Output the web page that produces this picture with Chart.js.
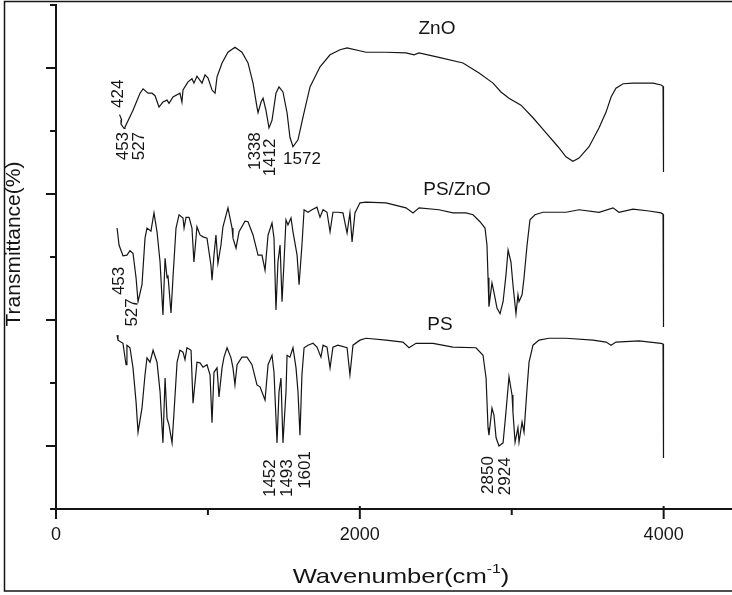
<!DOCTYPE html>
<html>
<head>
<meta charset="utf-8">
<style>
  html, body { margin: 0; padding: 0; background: #fff; }
  canvas { display: block; }
</style>
</head>
<body>
<canvas id="ftir" width="732" height="595"></canvas>
<script src="https://cdn.jsdelivr.net/npm/chart.js@4.4.1/dist/chart.umd.min.js"></script>
<script>
// FTIR spectra (wavenumber in cm-1, transmittance in arbitrary offset units)
const znoWn = [418, 432, 428, 448, 454, 507, 553, 573, 606, 632, 652, 678, 704, 731, 744, 770, 816, 829, 836, 869,
  895, 908, 928, 961, 981, 1001, 1027, 1047, 1060, 1093, 1132, 1178, 1224, 1264, 1297, 1323, 1330, 1350, 1363, 1382,
  1402, 1422, 1448, 1468, 1494, 1521, 1540, 1560, 1593, 1626, 1672, 1738, 1804, 1870, 1916, 2041, 2172, 2304, 2357, 2390,
  2521, 2679, 2785, 2877, 2929, 2982, 3061, 3140, 3226, 3305, 3357, 3403, 3443, 3509, 3575, 3621, 3654, 3686, 3733, 3798,
  3930, 3983, 3996, 3999];
const znoT = [6.26, 6.18, 6.11, 6.04, 6.06, 6.33, 6.60, 6.67, 6.60, 6.60, 6.56, 6.38, 6.46, 6.49, 6.44, 6.54, 6.60, 6.46, 6.65, 6.78,
  6.83, 6.76, 6.87, 6.76, 6.89, 6.84, 6.65, 6.60, 6.86, 7.08, 7.25, 7.33, 7.25, 7.08, 6.76, 6.38, 6.29, 6.46, 6.52, 6.33,
  6.05, 6.17, 6.60, 6.70, 6.62, 6.29, 5.90, 5.75, 5.86, 6.22, 6.70, 7.02, 7.21, 7.29, 7.32, 7.25, 7.25, 7.24, 7.21, 7.24,
  7.17, 7.08, 6.92, 6.76, 6.62, 6.52, 6.41, 6.21, 5.97, 5.75, 5.59, 5.52, 5.57, 5.75, 6.05, 6.30, 6.54, 6.68, 6.75, 6.76,
  6.76, 6.73, 6.71, 5.35];

const pszWn = [402, 415, 441, 467, 487, 507, 527, 540, 566, 586, 599, 625, 645, 665, 685, 704, 718, 731, 737, 757,
  770, 790, 810, 836, 843, 856, 876, 895, 908, 928, 948, 968, 994, 1020, 1027, 1040, 1053, 1066, 1086, 1099,
  1132, 1159, 1165, 1185, 1205, 1244, 1264, 1297, 1330, 1356, 1376, 1396, 1422, 1435, 1448, 1461, 1475, 1488, 1501, 1514,
  1527, 1547, 1560, 1587, 1600, 1619, 1633, 1659, 1685, 1718, 1738, 1758, 1784, 1804, 1823, 1856, 1889, 1916, 1935, 1949,
  1968, 2001, 2041, 2172, 2304, 2350, 2390, 2521, 2613, 2699, 2745, 2791, 2824, 2837, 2844, 2850, 2870, 2883, 2903, 2923,
  2943, 2962, 2976, 2995, 3008, 3028, 3041, 3048, 3068, 3081, 3101, 3120, 3153, 3206, 3357, 3443, 3575, 3667, 3706, 3798,
  3904, 3983, 3996, 3999];
const pszT = [4.46, 4.19, 4.02, 4.03, 4.10, 4.06, 3.67, 3.29, 3.56, 4.30, 4.46, 4.41, 4.70, 4.40, 3.92, 3.08, 3.98, 3.67, 3.71, 3.11,
  3.67, 4.46, 4.67, 4.62, 4.46, 4.63, 4.63, 4.46, 3.92, 4.48, 4.35, 4.32, 4.30, 3.87, 3.63, 4.03, 4.35, 3.90, 4.19, 4.48,
  4.78, 4.46, 4.30, 4.14, 4.40, 4.57, 4.56, 4.35, 4.03, 4.03, 3.79, 4.35, 4.54, 4.30, 3.16, 3.92, 4.19, 3.29, 3.92, 4.59,
  4.51, 4.62, 4.40, 4.03, 3.56, 4.19, 4.75, 4.71, 4.75, 4.79, 4.63, 4.75, 4.71, 4.40, 4.71, 4.71, 4.70, 4.38, 4.70, 4.24,
  4.70, 4.86, 4.87, 4.86, 4.78, 4.70, 4.78, 4.75, 4.70, 4.70, 4.67, 4.56, 4.46, 4.19, 3.67, 3.21, 3.59, 3.44, 3.19, 3.10,
  3.29, 3.71, 4.11, 3.92, 3.56, 3.10, 3.40, 3.29, 3.40, 3.67, 4.19, 4.59, 4.67, 4.71, 4.71, 4.75, 4.71, 4.78, 4.71, 4.76,
  4.73, 4.70, 4.68, 2.89];

const psWn = [402, 408, 441, 461, 467, 487, 507, 527, 540, 566, 586, 599, 619, 639, 665, 685, 704, 718, 731, 744,
  764, 777, 797, 816, 836, 849, 862, 889, 902, 928, 948, 968, 994, 1014, 1027, 1040, 1060, 1073, 1093, 1106,
  1126, 1152, 1165, 1178, 1192, 1224, 1257, 1290, 1323, 1343, 1376, 1396, 1422, 1435, 1455, 1468, 1481, 1494, 1514, 1521,
  1540, 1560, 1580, 1593, 1606, 1619, 1633, 1659, 1692, 1718, 1744, 1758, 1784, 1804, 1823, 1856, 1916, 1935, 1955, 2001,
  2041, 2172, 2284, 2324, 2370, 2482, 2613, 2765, 2811, 2831, 2844, 2850, 2870, 2883, 2897, 2916, 2943, 2962, 2982, 3002,
  3008, 3022, 3041, 3048, 3068, 3081, 3101, 3114, 3140, 3180, 3245, 3357, 3535, 3621, 3654, 3686, 3838, 3983, 3996, 3999];
const psT = [2.76, 2.68, 2.63, 2.29, 2.60, 2.56, 2.24, 1.70, 1.22, 1.60, 2.13, 2.40, 2.33, 2.52, 2.33, 1.86, 1.05, 2.08, 1.44, 1.33,
  1.05, 1.54, 2.33, 2.52, 2.49, 2.37, 2.56, 2.52, 1.68, 2.33, 2.32, 2.25, 2.29, 2.13, 1.37, 2.17, 2.24, 1.78, 2.24, 2.41,
  2.56, 2.40, 2.24, 1.97, 2.29, 2.41, 2.41, 2.29, 1.97, 1.94, 1.73, 2.29, 2.44, 2.17, 1.05, 1.86, 2.08, 1.05, 1.86, 2.44,
  2.41, 2.56, 2.24, 1.86, 1.17, 2.13, 2.56, 2.60, 2.63, 2.57, 2.41, 2.60, 2.57, 2.24, 2.57, 2.60, 2.56, 2.13, 2.60, 2.68,
  2.71, 2.68, 2.65, 2.56, 2.63, 2.63, 2.57, 2.56, 2.44, 2.08, 1.29, 1.17, 1.60, 1.49, 1.13, 1.00, 1.05, 1.54, 2.10, 1.81,
  1.54, 1.06, 1.29, 1.06, 1.38, 1.22, 1.92, 2.33, 2.60, 2.68, 2.71, 2.71, 2.68, 2.65, 2.60, 2.65, 2.67, 2.63, 2.62, 0.81];

const xMajor = [0, 2000, 4000];
const xLabels = ['0', '2000', '4000'];
const xMinor = [1000, 3000];
const yMajor = [1, 3, 5, 7];
const yMinor = [0, 2, 4, 6, 8];

const seriesNames = ['ZnO', 'PS/ZnO', 'PS'];
// label text, anchor wavenumber, anchor transmittance, rotated
const peakLabels = [
  ['424', 408, 6.59, true], ['453', 441, 5.76, true], ['527', 546, 5.76, true],
  ['1338', 1310, 5.68, true], ['1412', 1409, 5.58, true], ['1572', 1619, 5.55, false],
  ['453', 415, 3.62, true], ['527', 500, 3.12, true],
  ['1452', 1409, 0.49, true], ['1493', 1521, 0.49, true], ['1601', 1639, 0.62, true],
  ['2850', 2844, 0.54, true], ['2924', 2956, 0.52, true]
];
const seriesLabelPos = [[2508, 7.63], [2640, 5.06], [2528, 2.92]];

const FONT = '"Liberation Sans", Arial, Helvetica, sans-serif';
const INK = '#151515';

function pts(wn, t) {
  return wn.map((x, i) => ({x: x, y: t[i]}));
}

const decor = {
  id: 'decor',
  afterDraw(chart) {
    const {ctx, scales: {x, y}} = chart;
    ctx.save();
    ctx.strokeStyle = INK;
    ctx.fillStyle = INK;
    ctx.lineWidth = 2;
    const seg = (x1, y1, x2, y2) => { ctx.beginPath(); ctx.moveTo(x1, y1); ctx.lineTo(x2, y2); ctx.stroke(); };

    // tick marks
    yMajor.forEach(v => { const p = y.getPixelForValue(v); seg(x.left - 10, p, x.left, p); });
    yMinor.forEach(v => { const p = y.getPixelForValue(v); seg(x.left - 6, p, x.left, p); });
    xMajor.forEach(v => { const p = x.getPixelForValue(v); seg(p, y.bottom - 3, p, y.bottom + 10); });
    xMinor.forEach(v => { const p = x.getPixelForValue(v); seg(p, y.bottom, p, y.bottom + 6); });

    // outer frame (left, top, bottom)
    ctx.lineWidth = 1.5;
    ctx.beginPath();
    ctx.moveTo(732, 1.5); ctx.lineTo(4.5, 1.5); ctx.lineTo(4.5, 591); ctx.lineTo(732, 591);
    ctx.stroke();

    // series names
    ctx.textAlign = 'center';
    ctx.textBaseline = 'middle';
    ctx.font = '19px ' + FONT;
    seriesNames.forEach((s, i) => {
      const [wn, t] = seriesLabelPos[i];
      ctx.fillText(s, x.getPixelForValue(wn), y.getPixelForValue(t));
    });

    // peak positions
    ctx.font = '17px ' + FONT;
    peakLabels.forEach(([txt, wn, t, rot]) => {
      const px = x.getPixelForValue(wn), py = y.getPixelForValue(t);
      ctx.save();
      ctx.translate(px, py);
      if (rot) ctx.rotate(-Math.PI / 2);
      ctx.fillText(txt, 0, 0);
      ctx.restore();
    });

    // y title
    ctx.save();
    ctx.font = '21px ' + FONT;
    ctx.translate(14, 244);
    ctx.rotate(-Math.PI / 2);
    ctx.fillText('Transmittance(%)', 0, 0);
    ctx.restore();

    // x title with superscript
    ctx.save();
    ctx.translate(401, 577);
    ctx.scale(1.22, 1);
    ctx.textAlign = 'left';
    const main = 'Wavenumber(cm', sup = '-1', close = ')';
    ctx.font = '21px ' + FONT;
    const wMain = ctx.measureText(main).width, wClose = ctx.measureText(close).width;
    ctx.font = '13px ' + FONT;
    const wSup = ctx.measureText(sup).width;
    let cx = -(wMain + wSup + wClose) / 2;
    ctx.font = '21px ' + FONT;
    ctx.fillText(main, cx, 0);
    cx += wMain;
    ctx.font = '13px ' + FONT;
    ctx.fillText(sup, cx, -8);
    cx += wSup;
    ctx.font = '21px ' + FONT;
    ctx.fillText(close, cx, 0);
    ctx.restore();

    ctx.restore();
  }
};

const lineStyle = {
  borderColor: INK,
  borderWidth: 1.2,
  pointRadius: 0,
  tension: 0,
  fill: false
};

new Chart(document.getElementById('ftir').getContext('2d'), {
  type: 'line',
  data: {
    datasets: [
      Object.assign({label: seriesNames[0], data: pts(znoWn, znoT)}, lineStyle),
      Object.assign({label: seriesNames[1], data: pts(pszWn, pszT)}, lineStyle),
      Object.assign({label: seriesNames[2], data: pts(psWn, psT)}, lineStyle)
    ]
  },
  options: {
    responsive: false,
    animation: false,
    layout: {autoPadding: false, padding: {top: 5, left: 0, right: 0, bottom: 0}},
    plugins: {legend: {display: false}, tooltip: {enabled: false}},
    scales: {
      x: {
        type: 'linear',
        min: 0,
        max: 4450,
        afterFit: s => { s.height = 86; },
        afterBuildTicks: s => { s.ticks = xMajor.map(v => ({value: v})); },
        border: {display: true, color: INK, width: 2},
        grid: {drawOnChartArea: false, tickLength: 10, tickColor: 'rgba(0,0,0,0)'},
        ticks: {
          autoSkip: false,
          maxRotation: 0,
          padding: 5,
          color: INK,
          font: {family: FONT, size: 18},
          callback: v => { const i = xMajor.indexOf(v); return i >= 0 ? xLabels[i] : ''; }
        }
      },
      y: {
        type: 'linear',
        min: 0,
        max: 8,
        afterFit: s => { s.width = 56; },
        border: {display: true, color: INK, width: 2},
        grid: {display: false},
        ticks: {display: false, stepSize: 1}
      }
    }
  },
  plugins: [decor]
});
</script>
</body>
</html>
